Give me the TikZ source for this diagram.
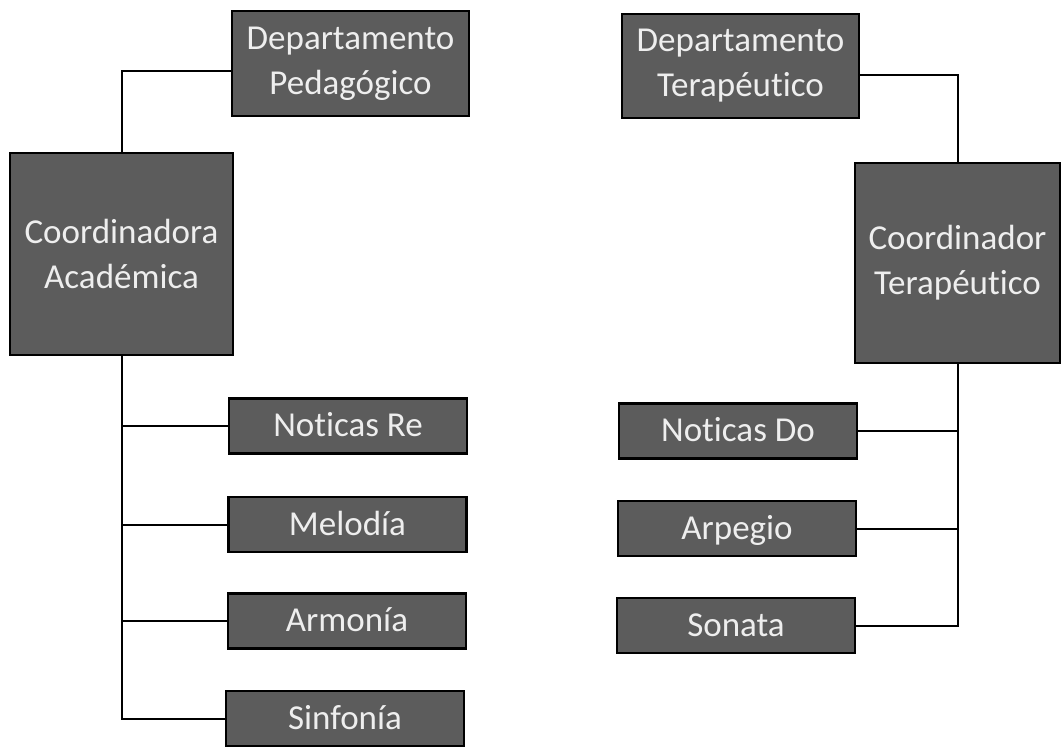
\documentclass[tikz,border=0pt]{standalone}
\usepackage{fontspec}
\setmainfont[Ligatures=NoCommon]{Carlito}
\definecolor{boxgray}{RGB}{92,92,92}
\definecolor{boxtext}{RGB}{238,238,238}
\tikzset{
  box/.style={draw=black, line width=2.2pt, fill=boxgray, text=boxtext, align=center,
    inner sep=0pt, font=\fontsize{35}{45}\selectfont},
  bigbox/.style={box, minimum width=#1, minimum height=202pt},
  smallbox/.style={box, minimum width=238pt, minimum height=55pt, text height=22pt, text depth=1pt},
  link/.style={line width=2pt}
}
\begin{document}
\begin{tikzpicture}[x=1pt,y=-1pt]
  \useasboundingbox (0,0) rectangle (1061,747);
  \node[box, minimum width=237pt, minimum height=105pt] (deptped) at (350.5,63.5) {Departamento\\Pedagógico};
  \node[box, minimum width=237pt, minimum height=104pt] (deptter) at (740.5,66) {Departamento\\Terapéutico};
  \node[bigbox=223pt] (coordac) at (121.5,254) {Coordinadora\\Académica};
  \node[bigbox=205pt, minimum height=200pt] (coordter) at (957.5,263) {Coordinador\\Terapéutico};

  \node[smallbox] (notre) at (348,426) {Noticas Re};
  \node[smallbox] (melodia) at (347.5,524.5) {Melodía};
  \node[smallbox] (armonia) at (347,621) {Armonía};
  \node[smallbox] (sinfonia) at (345,718.5) {Sinfonía};

  \node[smallbox] (notdo) at (738,431) {Noticas Do};
  \node[smallbox] (arpegio) at (737,528.5) {Arpegio};
  \node[smallbox] (sonata) at (736,625.5) {Sonata};

  \draw[link] (coordac.north) |- ([yshift=-7pt]deptped.west);
  \draw[link] ([yshift=-9pt]deptter.east) -| (coordter.north);

  \draw[link] (coordac.south) |- (sinfonia.west);
  \foreach \n in {notre,melodia,armonia}
  {
    \draw[link] (\n.west) -- (\n.west -| coordac.south);
  }
  \draw[link] (coordter.south) |- (sonata.east);
  \foreach \n in {notdo,arpegio}
  {
    \draw[link] (\n.east) -- (\n.east -| coordter.south);
  }
\end{tikzpicture}
\end{document}
